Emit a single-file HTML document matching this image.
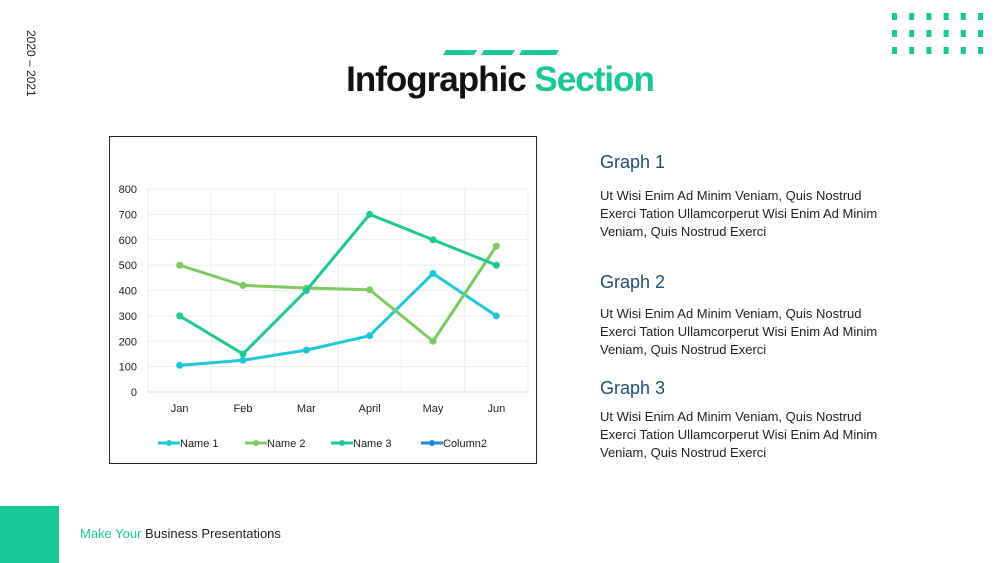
<!DOCTYPE html>
<html><head><meta charset="utf-8"><style>
body{margin:0;width:1000px;height:563px;background:#fff;position:relative;overflow:hidden;font-family:"Liberation Sans",sans-serif}
.a{position:absolute}
.h{color:#1f4e79;font-size:18px}
.p{color:#222;font-size:13px;line-height:18px;width:290px}
</style></head><body>
<div class="a" style="left:18px;top:30px;transform-origin:0 0;transform:translate(20px,0) rotate(90deg);font-size:12px;color:#222;white-space:nowrap">2020 – 2021</div>
<svg class="a" style="left:0;top:0" width="1000" height="563">
<g fill="#17c995">
<polygon points="446,50 477,50 474,55 443,55"/><polygon points="484,50 515,50 512,55 481,55"/><polygon points="522,50 559,50 556,55 519,55"/>
</g>
<g id="dots" fill="#17c995"></g>
<rect x="0" y="506" width="59" height="57" fill="#17c995"/>
</svg>
<div class="a" style="left:0;width:1000px;top:60px;text-align:center;font-size:35px;font-weight:bold;letter-spacing:-1px;color:#111">Infographic <span style="color:#17c995">Section</span></div>
<div class="a" style="left:80px;top:526px;font-size:13px;color:#222"><span style="color:#17c995">Make Your</span> Business Presentations</div>
<div class="a h" style="left:600px;top:152px">Graph 1</div>
<div class="a p" style="left:600px;top:187px">Ut Wisi Enim Ad Minim Veniam, Quis Nostrud Exerci Tation Ullamcorperut Wisi Enim Ad Minim Veniam, Quis Nostrud Exerci</div>
<div class="a h" style="left:600px;top:272px">Graph 2</div>
<div class="a p" style="left:600px;top:305px">Ut Wisi Enim Ad Minim Veniam, Quis Nostrud Exerci Tation Ullamcorperut Wisi Enim Ad Minim Veniam, Quis Nostrud Exerci</div>
<div class="a h" style="left:600px;top:378px">Graph 3</div>
<div class="a p" style="left:600px;top:408px">Ut Wisi Enim Ad Minim Veniam, Quis Nostrud Exerci Tation Ullamcorperut Wisi Enim Ad Minim Veniam, Quis Nostrud Exerci</div>
<svg class="a" id="chart" style="left:0;top:0" width="1000" height="563">
<rect x="109.5" y="136.5" width="427" height="327" fill="#fff" stroke="#222"/>
</svg>
<script>
const categories=["Jan","Feb","Mar","April","May","Jun"];
const name1=[105,125,165,222,467,300];
const name2=[500,420,410,403,200,575];
const name3=[300,150,400,700,600,500];
const yTicks=[0,100,200,300,400,500,600,700,800];
const legendNames=["Name 1","Name 2","Name 3","Column2"];
const NS="http://www.w3.org/2000/svg";
const svg=document.getElementById("chart");
function mk(t,a,p){const e=document.createElementNS(NS,t);for(const k in a)e.setAttribute(k,a[k]);(p||svg).appendChild(e);return e;}
const x0=148,x1=528,y0=392,y1=189;
const bw=(x1-x0)/categories.length;
const xs=i=>x0+bw*(i+0.5);
const ys=v=>y0-(v/800)*(y0-y1);
yTicks.forEach(t=>{const l=mk("line",{x1:x0,x2:x1,y1:ys(t),y2:ys(t),stroke:t?"#eee":"#d8d8d8"});


const tx=mk("text",{x:137,y:ys(t)+4,"text-anchor":"end","font-size":"11","fill":"#222"});tx.textContent=t;

});
for(let i=0;i<=categories.length;i++){const l=mk("line",{x1:x0+bw*i,x2:x0+bw*i,y1:y1,y2:y0,stroke:"#eee"});

}
categories.forEach((c,i)=>{const t=mk("text",{x:xs(i),y:412,"text-anchor":"middle","font-size":"11","fill":"#222"});t.textContent=c;

});
const series=[[name1,"#1ec8d8"],[name2,"#7ccb5e"],[name3,"#1ec894"]];
series.forEach(([d,col],si)=>{
const p=mk("polyline",{points:d.map((v,i)=>xs(i)+","+ys(v)).join(" "),fill:"none",stroke:col,"stroke-width":"3","stroke-linejoin":"round"});


d.forEach((v,i)=>{const c=mk("circle",{cx:xs(i),cy:ys(v),r:3.5,fill:col});

});});
const lcol=["#1ec8d8","#7ccb5e","#1ec894","#1a8fd0"];const lx=[158,245,331,421];
legendNames.forEach((n,i)=>{const l=mk("line",{x1:lx[i],x2:lx[i]+22,y1:443,y2:443,stroke:lcol[i],"stroke-width":"3"});


mk("circle",{cx:lx[i]+11,cy:443,r:3,fill:lcol[i]});
const t=mk("text",{x:lx[i]+22,y:447,"font-size":"11","fill":"#222"});t.textContent=n;

});
const g=document.getElementById("dots");
for(let r=0;r<3;r++)for(let c=0;c<6;c++){const e=document.createElementNS(NS,"rect");e.setAttribute("x",892+c*17.2);e.setAttribute("y",13+r*17);e.setAttribute("width",5);e.setAttribute("height",7);g.appendChild(e);}
</script>
</body></html>
